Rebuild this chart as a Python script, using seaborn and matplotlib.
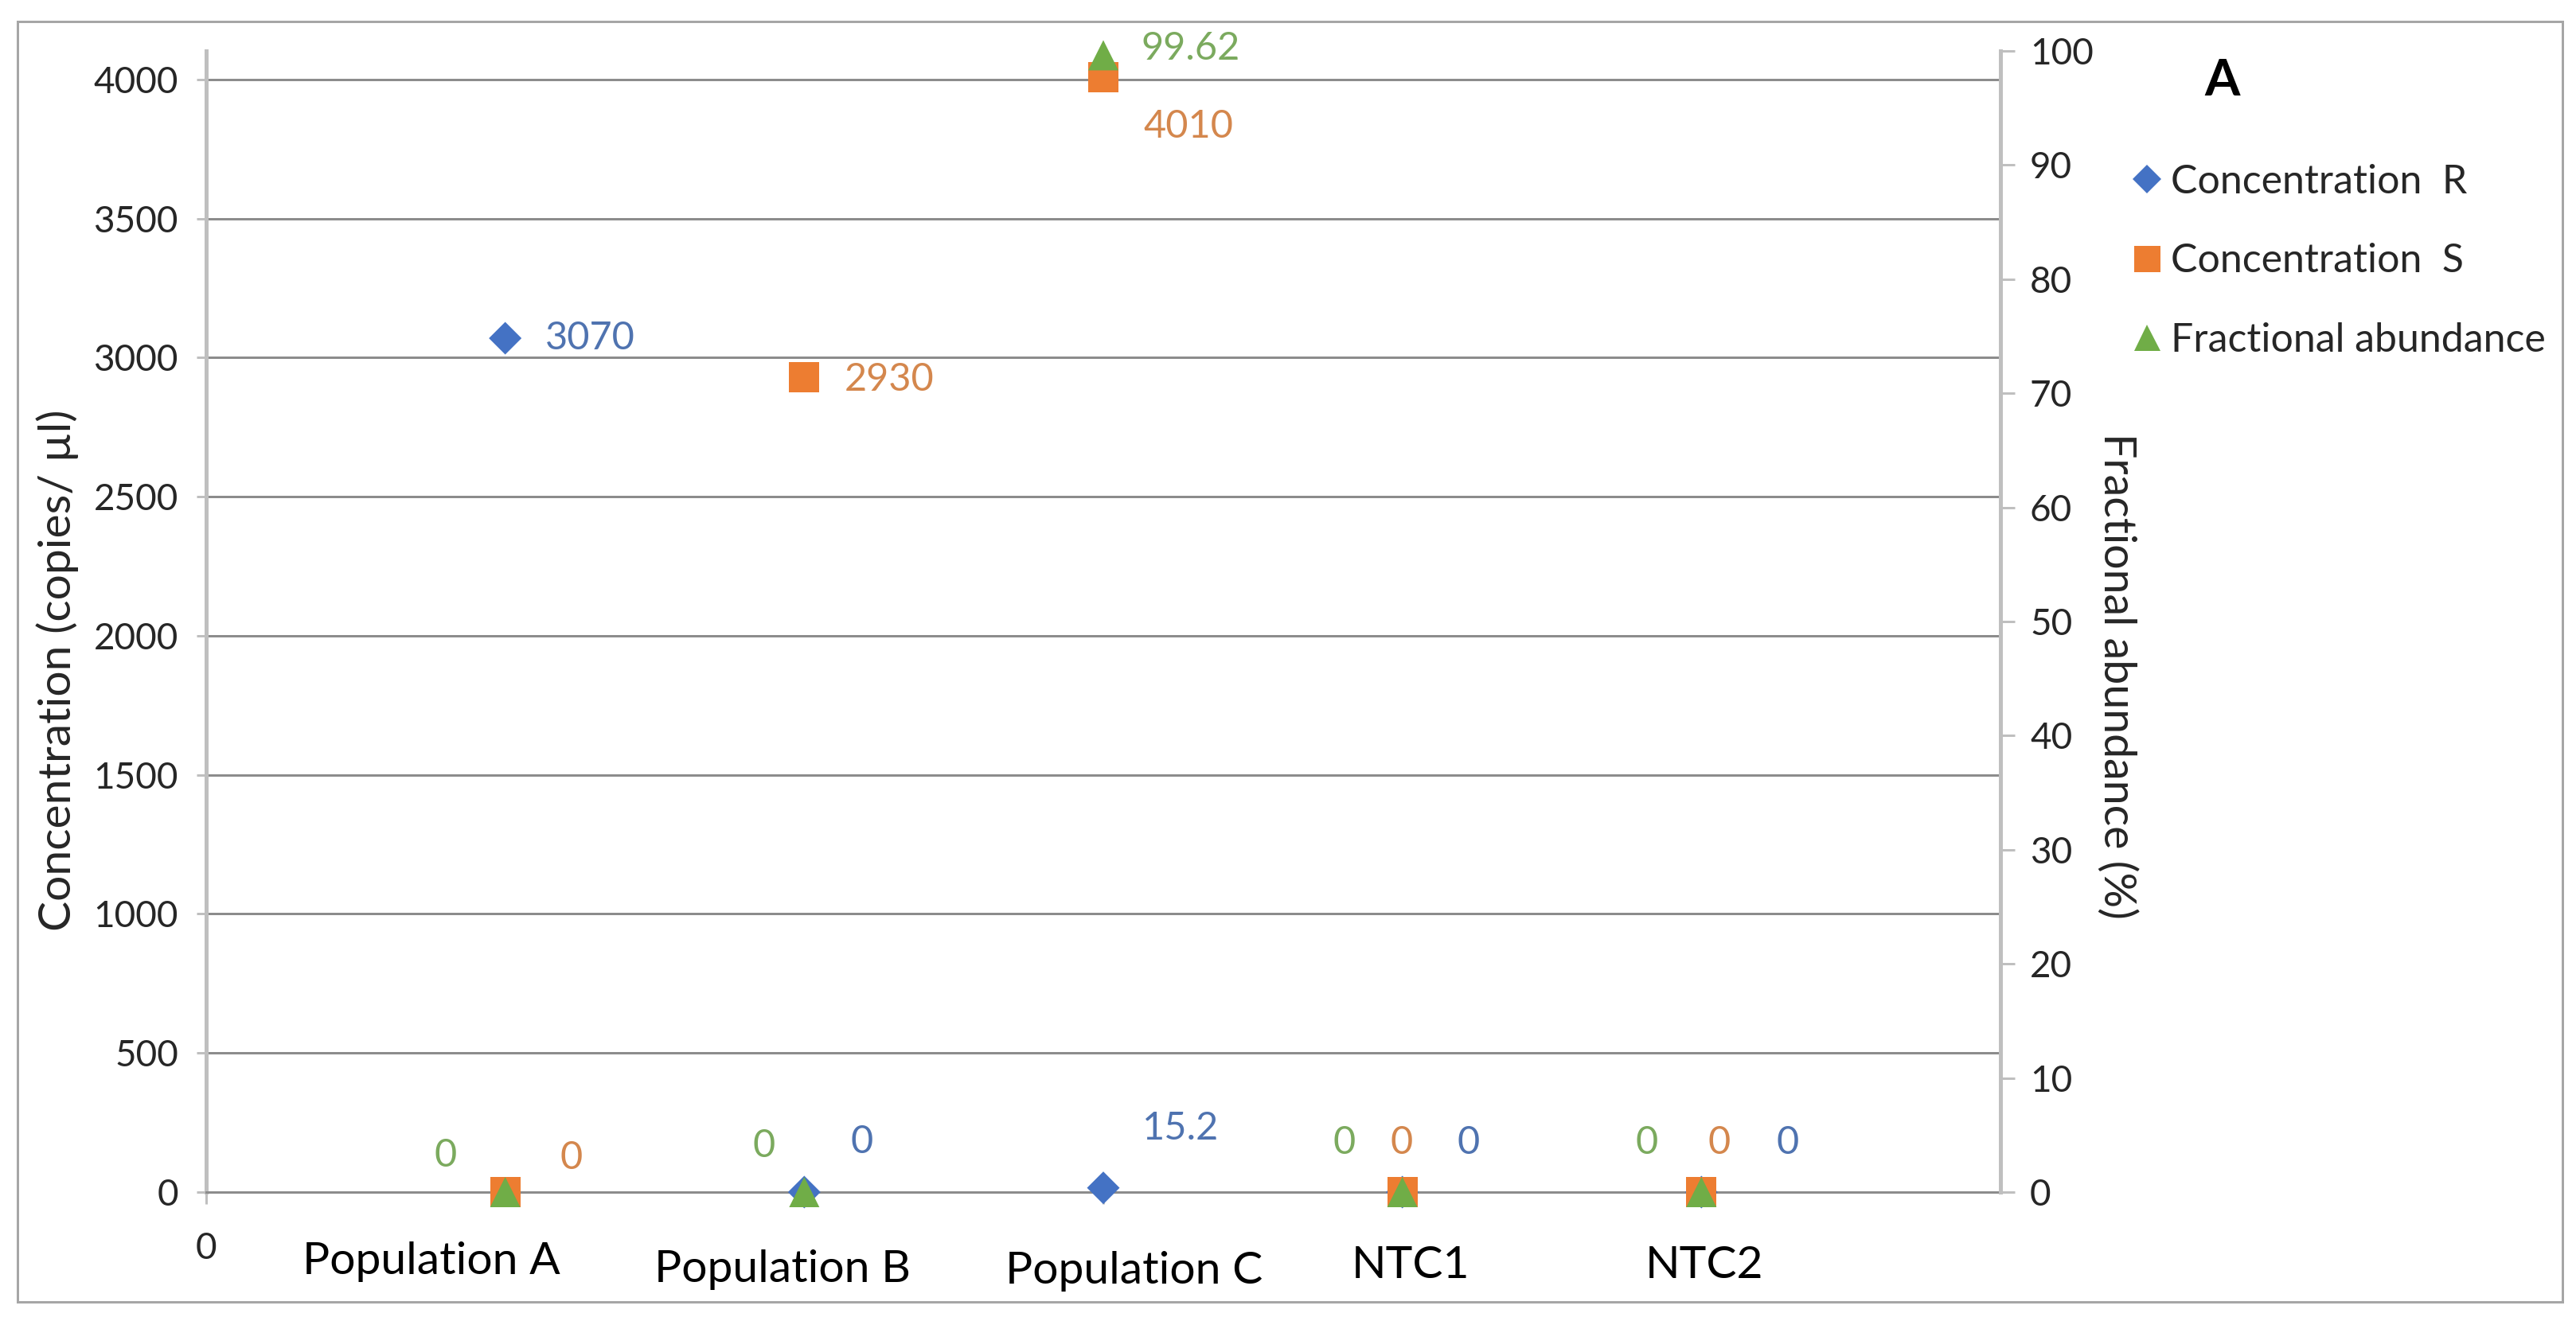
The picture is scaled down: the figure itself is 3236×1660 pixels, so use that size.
import numpy as np
import pandas as pd
import matplotlib
matplotlib.use("Agg")
import matplotlib.pyplot as plt
import seaborn as sns
from matplotlib.lines import Line2D
from matplotlib.patches import Rectangle
from matplotlib.transforms import ScaledTranslation

# ---------------- data ----------------
categories = ["Population A", "Population B", "Population C", "NTC1", "NTC2"]
conc_r = [3070, 0, 15.2, 0, 0]
conc_s = [0, 2930, 4010, 0, 0]
frac_abund = [0, 0, 99.62, 0, 0]
series_names = ["Concentration  R", "Concentration  S", "Fractional abundance"]
left_ticks = [0, 500, 1000, 1500, 2000, 2500, 3000, 3500, 4000]
right_ticks = [0, 10, 20, 30, 40, 50, 60, 70, 80, 90, 100]
panel_letter = "A"
left_label = "Concentration (copies/ µl)"
right_label = "Fractional abundance (%)"

# data-label offsets in pixels (dx, dy; dy up)
off_r = [(107, 0), (72, 63), (97, 75), (83, 62), (108, 62)]
off_s = [(83, 43), (107, -3), (107, -62), (-1, 62), (22, 62)]
off_f = [(-75, 46), (-51, 58), (110, 8), (-73, 62), (-69, 62)]
# category label offsets in pixels (dx right, dy down)
cat_off = [(-93, 0), (-27, 10), (39, 12), (10, 5), (4, 5)]

# ---------------- style ----------------
sns.set_style("white")
plt.rcParams["font.family"] = ["Lato", "DejaVu Sans"]

BLUE, ORANGE, GREEN = "#4472C4", "#ED7D31", "#70AD47"
BLUE_T, ORANGE_T, GREEN_T = "#4F73B0", "#D4874D", "#7BAA5E"
TXT = "#262626"
GRID = "#8C8C8C"
SPINE = "#BFBFBF"

W, H, DPI = 3237, 1660, 100
P = 72.0 / DPI  # px -> pt

fig = plt.figure(figsize=(W / DPI, H / DPI), dpi=DPI)
fig.patch.set_facecolor("white")


def px_rect(x0, y0, x1, y1):
    return [x0 / W, 1 - y1 / H, (x1 - x0) / W, (y1 - y0) / H]


ax = fig.add_axes(px_rect(259, 64, 2513, 1498))
ax2 = ax.twinx()

x = np.arange(1, len(categories) + 1)
df = pd.DataFrame({"x": x, "category": categories, "R": conc_r, "S": conc_s, "F": frac_abund})

sq = (38 * P) ** 2
dia = (41 * P / 1.414) ** 2
sns.scatterplot(data=df, x="x", y="R", ax=ax, marker="D", s=dia, color=BLUE,
                edgecolor="none", linewidth=0, zorder=3, legend=False, clip_on=False)
sns.scatterplot(data=df, x="x", y="S", ax=ax, marker="s", s=sq, color=ORANGE,
                edgecolor="none", linewidth=0, zorder=4, legend=False, clip_on=False)
sns.scatterplot(data=df, x="x", y="F", ax=ax2, marker="^", s=sq, color=GREEN,
                edgecolor="none", linewidth=0, zorder=5, legend=False, clip_on=False)

# axes limits/ticks
ax.set_xlim(0, 6)
ax.set_ylim(0, 4103)
ax2.set_ylim(0, 100)
ax.set_yticks(left_ticks)
ax2.set_yticks(right_ticks)
ax.set_xticks(x, labels=categories)
ax.set_xticks([0], labels=["0"], minor=True)

ax.grid(axis="y", color=GRID, lw=3 * P)
ax.grid(axis="x", visible=False)
ax2.grid(False)
ax.set_axisbelow(True)

for s in ["top", "right"]:
    ax.spines[s].set_visible(False)
ax.spines["left"].set_color(SPINE)
ax.spines["left"].set_linewidth(5 * P)
ax.spines["bottom"].set_color(GRID)
ax.spines["bottom"].set_linewidth(3 * P)
for s in ["top", "left", "bottom"]:
    ax2.spines[s].set_visible(False)
ax2.spines["right"].set_color(SPINE)
ax2.spines["right"].set_linewidth(5 * P)

ax.tick_params(axis="y", which="both", direction="out", length=12 * P, width=3 * P,
               color=SPINE, pad=23 * P, labelsize=33, labelcolor=TXT, left=True)
ax2.tick_params(axis="y", direction="out", length=18 * P, width=3 * P,
                color=SPINE, pad=19 * P, labelsize=33, labelcolor=TXT, right=True)
ax.tick_params(axis="x", which="major", direction="out", length=15 * P, width=3 * P,
               color=SPINE, pad=47 * P, labelsize=41, labelcolor="black", bottom=True)
ax.tick_params(axis="x", which="minor", direction="out", length=15 * P, width=3 * P,
               color=SPINE, pad=35 * P, labelsize=33, labelcolor=TXT, bottom=True)

# individual category label shifts
for tick, (dx, dy) in zip(ax.xaxis.get_major_ticks(), cat_off):
    lab = tick.label1
    lab.set_transform(lab.get_transform() + ScaledTranslation(dx / DPI, -dy / DPI, fig.dpi_scale_trans))

ax.set_xlabel("")
ax.set_ylabel(left_label, fontsize=41, color=TXT, ha="center", va="center")
ax.yaxis.set_label_coords((72 - 259) / 2254, (1498 - 842) / 1434)
ax2.set_ylabel(right_label, fontsize=40, color=TXT, rotation=270, ha="center", va="center")
ax2.yaxis.set_label_coords((2659 - 259) / 2254, (1498 - 849) / 1434)


# data labels
def fmt(v):
    return f"{v:g}"


for axis, vals, offs, col in [(ax, conc_r, off_r, BLUE_T), (ax, conc_s, off_s, ORANGE_T),
                               (ax2, frac_abund, off_f, GREEN_T)]:
    for xi, v, (dx, dy) in zip(x, vals, offs):
        axis.annotate(fmt(v), (xi, v), xytext=(dx, dy), textcoords="offset pixels",
                      ha="center", va="center", fontsize=35, color=col,
                      annotation_clip=False, zorder=6)

# legend
handles = [
    Line2D([], [], marker="D", linestyle="none", markersize=35 * P / 1.414, color=BLUE, markeredgewidth=0),
    Line2D([], [], marker="s", linestyle="none", markersize=33 * P, color=ORANGE, markeredgewidth=0),
    Line2D([], [], marker="^", linestyle="none", markersize=33 * P, color=GREEN, markeredgewidth=0),
]
leg = ax2.legend(handles, series_names, loc="upper left",
                 bbox_to_anchor=(2674 / W, 1 - 206 / H), bbox_transform=fig.transFigure,
                 frameon=False, fontsize=36, borderpad=0, borderaxespad=0,
                 handlelength=0.92, handletextpad=0.15, labelspacing=1.07)
for t in leg.get_texts():
    t.set_color(TXT)

fig.text(2792 / W, 1 - 102 / H, panel_letter, fontsize=46, fontweight="bold",
         ha="center", va="center", color="black")

# outer frame
fig.add_artist(Rectangle((22 / W, 1 - 1636 / H), (3219 - 22) / W, (1636 - 27) / H,
                         transform=fig.transFigure, fill=False, ec="#A6A6A6", lw=3 * P))

fig.savefig("out.png", dpi=DPI, facecolor="white")
